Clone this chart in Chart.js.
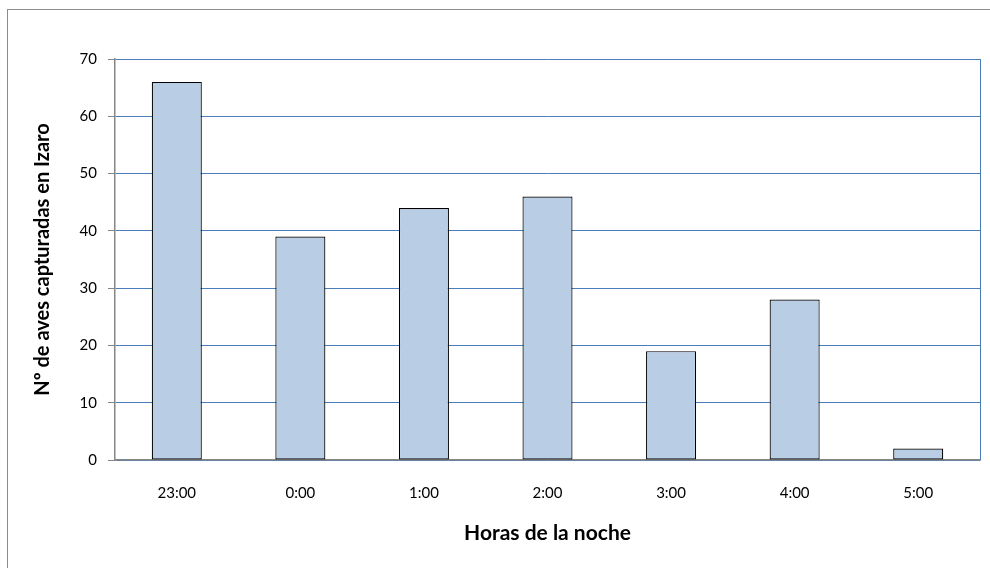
<!DOCTYPE html>
<html>
<head>
<meta charset="utf-8">
<script src="https://cdn.jsdelivr.net/npm/chart.js@4/dist/chart.umd.min.js"></script>
<style>
  html, body { margin: 0; padding: 0; background: #fff; }
  #wrap { position: relative; width: 990px; height: 568px; overflow: hidden; }
  #frame { position: absolute; left: 7px; top: 9px; width: 1000px; height: 600px;
           border-left: 1px solid #8c8c8c; border-top: 1px solid #8c8c8c; }
  canvas { position: absolute; left: 0; top: 0; }
</style>
</head>
<body>
<div id="wrap">
  <div id="frame"></div>
  <canvas id="birdChart" width="990" height="568"></canvas>
</div>
<script>
// Hours of the night and birds caught in each one
const hours = ['23:00', '0:00', '1:00', '2:00', '3:00', '4:00', '5:00'];
const birds = [66, 39, 44, 46, 19, 28, 2];
const yTicks = [0, 10, 20, 30, 40, 50, 60, 70];

const FONT = 'Lato, "Open Sans", sans-serif';

// draws the blue right edge of the plot area
const rightEdge = {
  id: 'rightEdge',
  afterDraw(chart) {
    const { ctx, chartArea } = chart;
    ctx.save();
    ctx.strokeStyle = '#4A7EBB';
    ctx.lineWidth = 1;
    ctx.beginPath();
    ctx.moveTo(Math.round(chartArea.right) + 0.5, chartArea.top);
    ctx.lineTo(Math.round(chartArea.right) + 0.5, chartArea.bottom);
    ctx.stroke();
    ctx.restore();
  }
};

new Chart(document.getElementById('birdChart'), {
  type: 'bar',
  data: {
    labels: hours,
    datasets: [{
      data: birds,
      backgroundColor: '#B9CDE5',
      borderColor: '#000000',
      borderWidth: 1.2,
      borderSkipped: false,
      categoryPercentage: 1,
      barPercentage: 0.405
    }]
  },
  options: {
    responsive: false,
    animation: false,
    layout: { padding: { left: 0, top: 59, right: 10, bottom: 22 } },
    plugins: {
      legend: { display: false },
      tooltip: { enabled: false }
    },
    scales: {
      x: {
        grid: { display: false, drawTicks: false },
        border: { color: '#868686', width: 1.5 },
        ticks: { color: '#000', font: { family: FONT, size: 15 }, padding: 24 },
        title: {
          display: true,
          text: 'Horas de la noche',
          color: '#000',
          font: { family: FONT, size: 21, weight: 'bold' },
          padding: { top: 0, bottom: 0 }
        },
        afterFit(scale) { scale.height = 86; }
      },
      y: {
        min: 0,
        max: 70,
        afterBuildTicks(scale) { scale.ticks = yTicks.map(v => ({ value: v })); },
        grid: { color: '#4A7EBB', tickColor: '#868686', tickLength: 7 },
        border: { color: '#868686', width: 1.5 },
        ticks: { color: '#000', font: { family: FONT, size: 15 }, padding: 11 },
        title: {
          display: true,
          text: 'Nº de aves capturadas en Izaro',
          color: '#000',
          font: { family: FONT, size: 20, weight: 'bold' },
          padding: { top: 31, bottom: 0 }
        },
        afterFit(scale) { scale.width = 115; }
      }
    }
  },
  plugins: [rightEdge]
});
</script>
</body>
</html>
